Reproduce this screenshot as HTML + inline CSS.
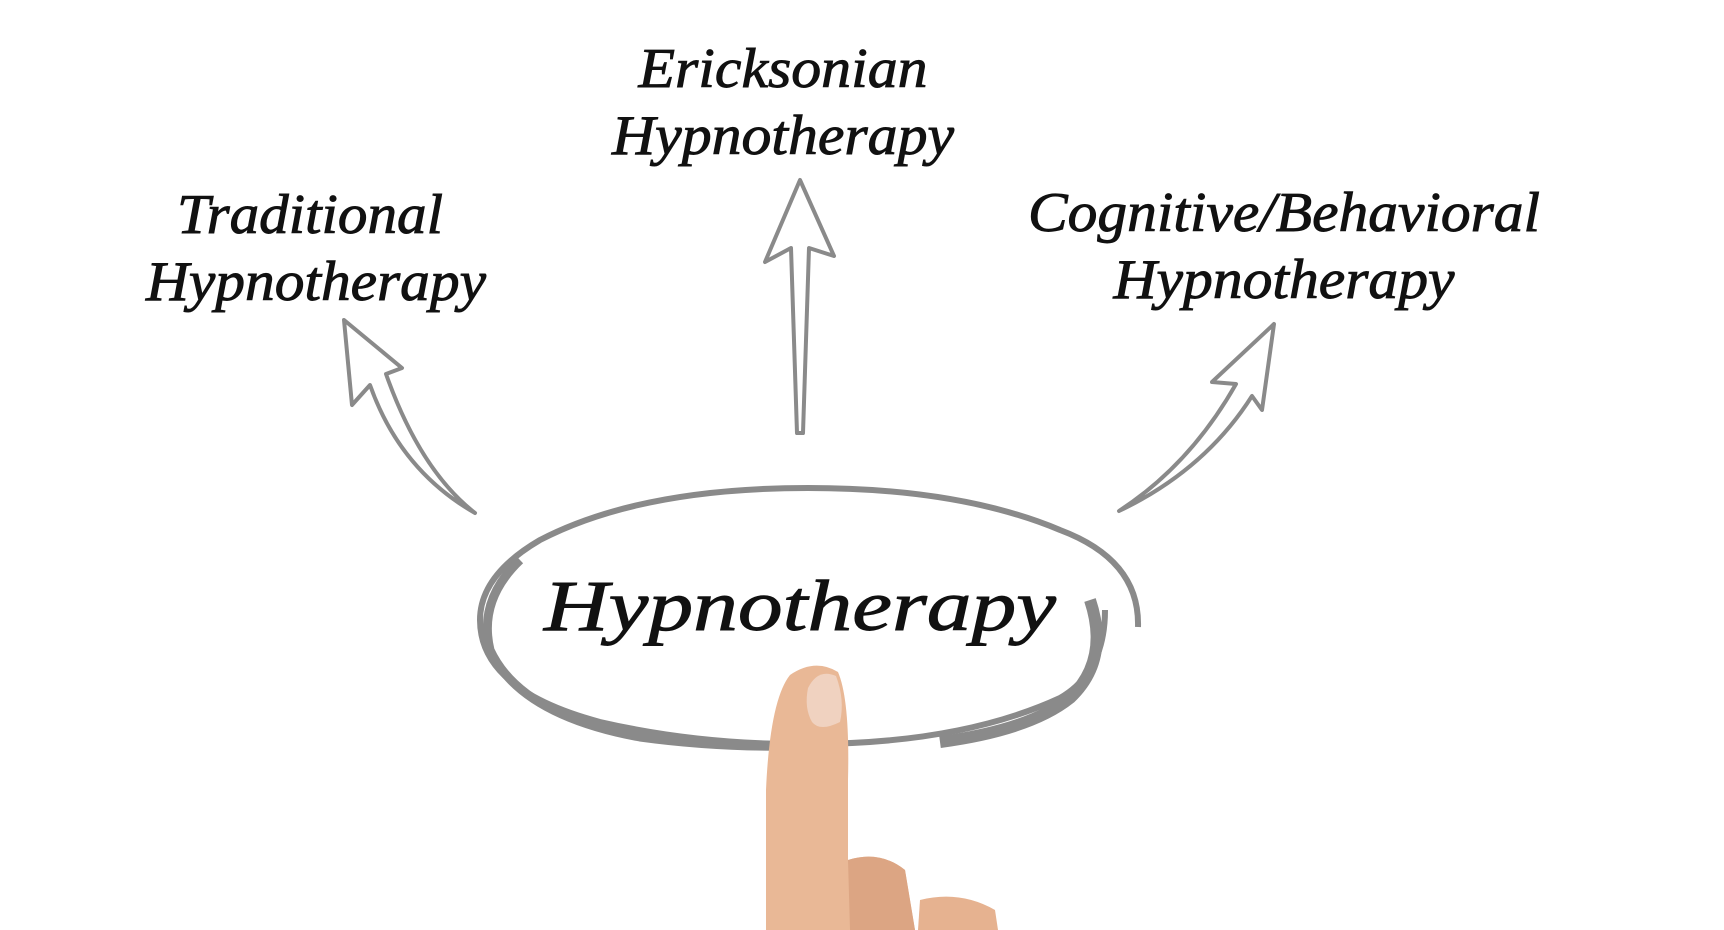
<!DOCTYPE html>
<html><head><meta charset="utf-8"><style>
html,body{margin:0;padding:0;background:#fff;}
svg{display:block}
text{font-family:"Liberation Serif",serif;font-style:italic;fill:#111;stroke:#111;stroke-width:0.9;}
</style></head><body>
<svg width="1724" height="930" viewBox="0 0 1724 930">
<g font-size="56" text-anchor="middle">
<text x="783" y="87" textLength="289" lengthAdjust="spacingAndGlyphs">Ericksonian</text>
<text x="783" y="154" textLength="342" lengthAdjust="spacingAndGlyphs">Hypnotherapy</text>
<text x="310" y="233" textLength="266" lengthAdjust="spacingAndGlyphs">Traditional</text>
<text x="316" y="300" textLength="340" lengthAdjust="spacingAndGlyphs">Hypnotherapy</text>
<text x="1284" y="231" textLength="512" lengthAdjust="spacingAndGlyphs">Cognitive/Behavioral</text>
<text x="1284" y="298" textLength="341" lengthAdjust="spacingAndGlyphs">Hypnotherapy</text>
</g>
<g fill="#fff" stroke="#8a8a8a" stroke-width="4" stroke-linejoin="round">
<path d="M800 180 L834 256 L809 248 L803 433 L797 433 L791 248 L765 262 Z"/>
<path d="M344 320 L402 368 L386 374 Q420 470 475 513 Q400 470 370 385 L352 405 Z"/>
<path d="M1274 324 L1262 410 L1252 396 Q1205 470 1119 511 Q1190 465 1236 384 L1212 382 Z"/>
</g>
<path d="M1138 627 Q1140 560 1060 530 Q960 488 808 488 Q640 488 540 540 Q480 575 480 620 Q480 690 600 722 Q700 745 808 744 Q960 744 1060 698 Q1105 672 1105 610" fill="none" stroke="#8a8a8a" stroke-width="6"/>
<path d="M520 560 Q478 600 490 650 Q520 715 640 737 Q720 748 808 746" fill="none" stroke="#8a8a8a" stroke-width="9"/>
<path d="M1090 600 Q1110 660 1070 698 Q1030 730 940 742" fill="none" stroke="#8a8a8a" stroke-width="12"/>
<text x="800" y="630" font-size="72" text-anchor="middle" textLength="512" lengthAdjust="spacingAndGlyphs">Hypnotherapy</text>
<path d="M766 930 L766 790 Q770 700 790 675 Q815 658 838 672 Q850 700 848 780 L848 860 Q880 850 905 870 L915 930 Z" fill="#e9b896"/>
<path d="M848 860 Q880 850 905 870 L915 930 L850 930 Z" fill="#dca583"/>
<path d="M920 900 Q960 890 995 910 L998 930 L918 930 Z" fill="#e6b290"/>
<path d="M808 688 Q818 668 836 676 Q845 700 840 722 Q820 732 812 722 Q804 708 808 688 Z" fill="#f0d2c0"/>
</svg>
</body></html>
